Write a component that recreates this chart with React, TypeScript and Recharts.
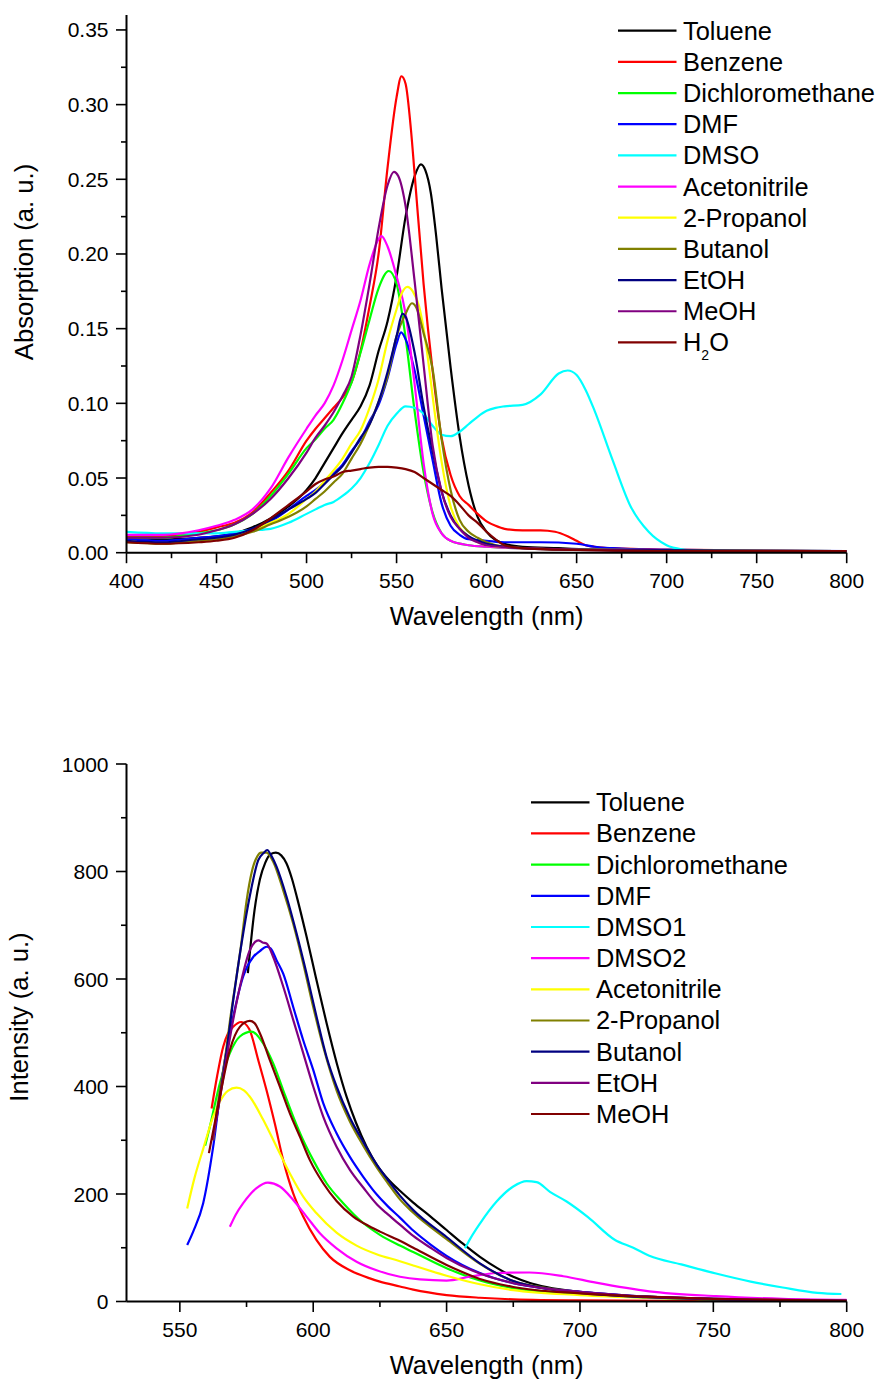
import React from 'react';
import { LineChart, Line, XAxis, YAxis, Legend, Label } from 'recharts';

const FONT = '"Liberation Sans", Arial, Helvetica, sans-serif';
const TICK_FS = 21;
const TITLE_FS = 25.6;
const LEGEND_FS = 25.4;

type Pt = [number, number];

// ---------------- Absorption spectra (top) : [wavelength nm, absorbance] ----------------
const ABS_TOLUENE: Pt[] = [[400,0.010],[420,0.009],[440,0.010],[450,0.011],[460,0.013],[470,0.017],[480,0.023],[490,0.031],[500,0.042],[505,0.050],[510,0.060],[515,0.070],[520,0.080],[525,0.089],[530,0.098],[535,0.112],[540,0.135],[545,0.155],[550,0.185],[555,0.225],[560,0.252],[563.5,0.260],[566,0.256],[569,0.241],[572,0.212],[575,0.177],[580,0.124],[585,0.078],[590,0.045],[595,0.024],[600,0.014],[610,0.006],[620,0.004],[640,0.003],[660,0.002],[700,0.001],[800,0.001]];
const ABS_BENZENE: Pt[] = [[400,0.011],[420,0.011],[440,0.014],[450,0.017],[460,0.020],[470,0.027],[480,0.040],[490,0.055],[500,0.075],[505,0.083],[510,0.090],[515,0.097],[520,0.104],[525,0.114],[530,0.135],[535,0.165],[540,0.200],[545,0.258],[550,0.305],[552.7,0.319],[555,0.314],[558,0.283],[560,0.254],[565,0.180],[570,0.122],[575,0.077],[580,0.052],[585,0.038],[590,0.032],[595,0.026],[600,0.021],[605,0.018],[610,0.016],[620,0.015],[630,0.015],[638,0.014],[645,0.011],[650,0.008],[655,0.005],[660,0.004],[670,0.003],[700,0.002],[800,0.001]];
const ABS_DCM: Pt[] = [[400,0.010],[420,0.010],[440,0.013],[450,0.015],[460,0.019],[470,0.026],[480,0.038],[490,0.053],[500,0.070],[505,0.076],[510,0.083],[515,0.089],[520,0.100],[525,0.114],[530,0.134],[535,0.156],[540,0.177],[545.7,0.1886],[550,0.180],[555,0.144],[560,0.095],[565,0.054],[570,0.027],[575,0.013],[580,0.008],[590,0.005],[600,0.004],[650,0.002],[800,0.001]];
const ABS_DMF: Pt[] = [[400,0.009],[420,0.008],[440,0.010],[450,0.011],[460,0.013],[470,0.016],[480,0.021],[490,0.029],[500,0.038],[505,0.042],[510,0.047],[515,0.053],[520,0.059],[525,0.068],[530,0.076],[535,0.088],[540,0.099],[545,0.117],[550,0.140],[552.5,0.1475],[555,0.143],[560,0.122],[565,0.092],[570,0.062],[575,0.033],[580,0.018],[585,0.012],[590,0.009],[600,0.008],[610,0.007],[630,0.007],[650,0.006],[660,0.004],[670,0.003],[690,0.002],[800,0.001]];
const ABS_DMSO: Pt[] = [[400,0.014],[420,0.013],[440,0.013],[450,0.013],[460,0.014],[470,0.015],[480,0.016],[490,0.020],[500,0.026],[505,0.029],[510,0.032],[515,0.034],[520,0.038],[525,0.043],[530,0.050],[535,0.060],[540,0.072],[545,0.085],[550,0.093],[555,0.098],[560,0.097],[565,0.093],[570,0.085],[575,0.079],[580,0.078],[585,0.081],[590,0.086],[595,0.091],[600,0.095],[605,0.097],[610,0.098],[620,0.099],[630,0.106],[640,0.120],[645,0.122],[650,0.119],[655,0.109],[660,0.095],[670,0.062],[680,0.031],[690,0.014],[700,0.005],[710,0.002],[720,0.001],[800,0.001]];
const ABS_ACN: Pt[] = [[400,0.012],[420,0.012],[440,0.015],[450,0.018],[460,0.022],[470,0.029],[480,0.043],[490,0.064],[500,0.083],[505,0.092],[510,0.100],[515,0.112],[520,0.129],[525,0.149],[530,0.169],[535,0.193],[540,0.210],[541.6,0.212],[545,0.205],[550,0.185],[555,0.160],[560,0.113],[565,0.060],[570,0.026],[575,0.013],[580,0.008],[590,0.005],[600,0.004],[650,0.002],[800,0.001]];
const ABS_2PROP: Pt[] = [[400,0.008],[420,0.006],[440,0.008],[450,0.009],[460,0.011],[470,0.015],[480,0.020],[490,0.026],[500,0.036],[505,0.041],[510,0.048],[515,0.055],[520,0.063],[525,0.073],[530,0.082],[535,0.097],[540,0.116],[545,0.142],[550,0.163],[553,0.174],[556,0.178],[559,0.175],[562.5,0.165],[565,0.150],[568,0.1245],[570,0.105],[575,0.061],[580,0.031],[585,0.017],[590,0.011],[600,0.005],[620,0.003],[650,0.002],[800,0.001]];
const ABS_BUTANOL: Pt[] = [[400,0.007],[420,0.006],[440,0.008],[450,0.009],[460,0.011],[470,0.014],[480,0.019],[490,0.024],[500,0.031],[505,0.036],[510,0.041],[515,0.047],[520,0.053],[525,0.063],[530,0.073],[535,0.086],[540,0.101],[545,0.118],[550,0.145],[555,0.160],[558.5,0.167],[561,0.164],[565,0.147],[570,0.123],[575,0.076],[580,0.042],[585,0.022],[590,0.014],[595,0.010],[600,0.007],[610,0.004],[650,0.002],[800,0.001]];
const ABS_ETOH: Pt[] = [[400,0.008],[420,0.007],[440,0.009],[450,0.010],[460,0.012],[470,0.016],[480,0.022],[490,0.029],[500,0.036],[505,0.040],[510,0.046],[515,0.052],[520,0.058],[525,0.067],[530,0.077],[535,0.086],[540,0.101],[545,0.121],[550,0.145],[553.3,0.160],[555,0.158],[560,0.134],[565,0.098],[570,0.068],[575,0.041],[580,0.025],[585,0.016],[590,0.011],[600,0.006],[620,0.003],[650,0.002],[800,0.001]];
const ABS_MEOH: Pt[] = [[400,0.010],[420,0.010],[440,0.012],[450,0.015],[460,0.019],[470,0.026],[480,0.036],[490,0.050],[500,0.067],[505,0.077],[510,0.085],[515,0.094],[520,0.105],[525,0.118],[530,0.146],[535,0.180],[540,0.217],[545,0.246],[548.5,0.255],[551,0.252],[555,0.232],[560,0.182],[565,0.126],[570,0.072],[575,0.041],[580,0.024],[585,0.016],[590,0.010],[595,0.007],[600,0.005],[620,0.003],[700,0.001],[800,0.001]];
const ABS_H2O: Pt[] = [[400,0.007],[420,0.006],[440,0.007],[450,0.008],[460,0.010],[470,0.015],[480,0.023],[490,0.032],[500,0.041],[505,0.046],[510,0.049],[515,0.051],[520,0.054],[525,0.055],[530,0.056],[535,0.057],[540,0.0575],[545,0.0575],[550,0.057],[555,0.056],[560,0.054],[565,0.050],[570,0.046],[575,0.042],[580,0.038],[585,0.032],[590,0.025],[595,0.020],[600,0.014],[605,0.009],[610,0.005],[620,0.003],[640,0.002],[700,0.001],[800,0.001]];

// ---------------- Emission spectra (bottom) : [wavelength nm, intensity] ----------------
const PL_TOLUENE: Pt[] = [[575.5,611],[578,728],[580,785],[582,816],[584,832],[586,835],[588,830],[590,815],[592,787],[594,750],[597.5,679],[601,603],[605,518],[609,440],[612.5,381],[616,333],[620,288],[624,253],[628,228],[632.5,206],[637.5,184],[644,158],[650,133],[656,108],[662.5,83],[669,62],[675,46],[681,35],[687.5,27],[700,18],[712,13],[725,9],[750,5],[775,3],[800,2]];
const PL_BENZENE: Pt[] = [[561.9,359],[564,420],[566.25,474],[568,498],[570,511],[573,520],[576,507],[579.4,449],[582.5,393],[585.6,331],[588.75,263],[592.5,201],[596.25,158],[601.25,114],[606.25,83],[613.75,58],[621.25,43],[625,37],[632.5,28],[637.5,22],[650,12],[662.5,7],[675,4],[700,2],[750,1],[800,0]];
const PL_DCM: Pt[] = [[559.5,290],[561.25,325],[565,406],[568.75,462],[572.5,493],[576.9,502],[581.25,480],[585,443],[588.75,393],[592.5,344],[596.25,300],[600,263],[605,220],[611.25,183],[618.75,146],[625,124],[632.5,104],[637.5,92],[650,62],[662.5,39],[675,25],[687.5,18],[700,14],[725,7],[750,4],[800,1]];
const PL_DMF: Pt[] = [[552.75,105],[555,130],[558.75,183],[562.5,288],[566.25,431],[570,530],[573.75,605],[577.5,641],[580,652],[582.5,660],[584,657],[586.25,635],[588.75,610],[592.5,548],[596.25,486],[600,431],[603.75,369],[608.75,313],[613.75,269],[618.75,232],[624,198],[628,177],[632.5,156],[637.5,132],[644,106],[650,85],[662.5,53],[675,34],[687.5,24],[700,18],[725,9],[750,5],[775,3],[800,2]];
const PL_DMSO1: Pt[] = [[656.9,99],[659,118],[662.5,145],[668.75,186],[675,214],[680,224],[683.75,222],[688.75,204],[695,186],[703,157],[713,115],[720,100],[726,85],[738,69],[751,52],[764,37],[776,26],[789,16],[798,14]];
const PL_DMSO2: Pt[] = [[568.75,139],[571,162],[573.75,183],[578.75,211],[583,221],[587.5,214],[592.5,189],[597.5,158],[602.5,127],[608.75,99],[616.25,74],[623.75,58],[632.5,46],[640,41],[650,39],[658.75,46],[668.75,53],[681,54],[693.75,47],[706,35],[726,19],[751,10],[776,5],[800,3]];
const PL_ACN: Pt[] = [[552.75,173],[555.5,230],[558.75,284],[562.5,344],[565,372],[568,392],[571.25,398],[574,393],[576.25,381],[581.25,338],[586.25,288],[591.25,238],[596.25,195],[601.25,164],[608.75,128],[616.25,104],[623.75,88],[632.5,75],[637.5,67],[650,48],[662.5,32],[675,21],[700,12],[725,7],[750,4],[800,1]];
const PL_2PROP: Pt[] = [[562.5,300],[564,360],[566.9,450],[569,530],[571.25,605],[573,665],[575,745],[577,800],[579,828],[580.5,835],[582.5,835],[585,818],[588.75,765],[592.5,703],[596.25,629],[600,548],[603.75,474],[608.75,393],[613.75,335],[618.75,290],[623.75,250],[628,220],[632.5,190],[637.5,165],[650,116],[662.5,70],[675,38],[687.5,25],[700,17],[725,8],[750,4],[775,2],[800,1]];
const PL_BUTANOL: Pt[] = [[563,320],[566.9,443],[570,560],[573.1,665],[576.25,755],[579.4,821],[581.5,835],[582.75,840],[584,832],[586.25,809],[590,753],[593.75,685],[597.5,610],[601.25,530],[605,455],[608.75,400],[613.75,342],[618.75,297],[623.75,255],[628,226],[632.5,197],[637.5,170],[650,120],[662.5,71],[675,38],[687.5,24],[700,16],[725,8],[750,4],[775,2],[800,1]];
const PL_ETOH: Pt[] = [[562.25,300],[563.75,340],[566.9,435],[570,524],[573.1,598],[576.25,654],[578,668],[579.4,672],[581,668],[582.5,666],[585,641],[588.75,586],[592.5,524],[596.25,462],[600,400],[603.75,344],[608.75,288],[613.75,245],[618.75,212],[624,180],[628,162],[632.5,143],[637.5,122],[644,100],[650,81],[662.5,52],[675,34],[687.5,24],[700,18],[725,9],[750,5],[775,3],[800,2]];
const PL_MEOH: Pt[] = [[560.9,276],[563,330],[565,381],[568.75,468],[572.5,511],[576.25,522],[578,518],[580,499],[583.75,449],[587.5,400],[591.25,350],[595,307],[598.75,263],[603.75,220],[608.75,187],[615,158],[621,140],[625,130],[632.5,113],[637.5,100],[650,68],[662.5,42],[675,27],[700,15],[725,9],[750,5],[775,3],[800,1]];

// ---------------- Axis ticks ----------------
const ABS_X_MAJOR = [400, 450, 500, 550, 600, 650, 700, 750, 800];
const ABS_X_MINOR = [425, 475, 525, 575, 625, 675, 725, 775];
const ABS_Y_MAJOR = [0, 0.05, 0.1, 0.15, 0.2, 0.25, 0.3, 0.35];
const ABS_Y_MINOR = [0.025, 0.075, 0.125, 0.175, 0.225, 0.275, 0.325];
const PL_X_MAJOR = [550, 600, 650, 700, 750, 800];
const PL_X_MINOR = [575, 625, 675, 725, 775];
const PL_Y_MAJOR = [0, 200, 400, 600, 800, 1000];
const PL_Y_MINOR = [100, 300, 500, 700, 900];

const ABS_SERIES = [
  { name: 'Toluene', color: '#000000', pts: ABS_TOLUENE },
  { name: 'Benzene', color: '#FF0000', pts: ABS_BENZENE },
  { name: 'Dichloromethane', color: '#00FF00', pts: ABS_DCM },
  { name: 'DMF', color: '#0000FF', pts: ABS_DMF },
  { name: 'DMSO', color: '#00FFFF', pts: ABS_DMSO },
  { name: 'Acetonitrile', color: '#FF00FF', pts: ABS_ACN },
  { name: '2-Propanol', color: '#FFFF00', pts: ABS_2PROP },
  { name: 'Butanol', color: '#808000', pts: ABS_BUTANOL },
  { name: 'EtOH', color: '#000080', pts: ABS_ETOH },
  { name: 'MeOH', color: '#800080', pts: ABS_MEOH },
  { name: 'H2O', color: '#800000', pts: ABS_H2O },
];

const PL_SERIES = [
  { name: 'Toluene', color: '#000000', pts: PL_TOLUENE },
  { name: 'Benzene', color: '#FF0000', pts: PL_BENZENE },
  { name: 'Dichloromethane', color: '#00FF00', pts: PL_DCM },
  { name: 'DMF', color: '#0000FF', pts: PL_DMF },
  { name: 'DMSO1', color: '#00FFFF', pts: PL_DMSO1 },
  { name: 'DMSO2', color: '#FF00FF', pts: PL_DMSO2 },
  { name: 'Acetonitrile', color: '#FFFF00', pts: PL_ACN },
  { name: '2-Propanol', color: '#808000', pts: PL_2PROP },
  { name: 'Butanol', color: '#000080', pts: PL_BUTANOL },
  { name: 'EtOH', color: '#800080', pts: PL_ETOH },
  { name: 'MeOH', color: '#800000', pts: PL_MEOH },
];

const toData = (pts: Pt[]) => pts.map(([x, y]) => ({ x, y }));
const isIn = (arr: number[], v: number) => arr.some((a) => Math.abs(a - v) < 1e-9);
const sortNum = (a: number[]) => [...a].sort((p, q) => p - q);

// ---------------- Geometry (page pixels; the wrapper is pinned to the page origin) ----------------
const W = 878;
const LEFT = 126.5;
const RIGHT_M = 31.3;
const PLOT_W = W - LEFT - RIGHT_M;
const XAXIS_H = 60;

const H1 = 698;
const TOP1 = 15;
const PLOT_H1 = 537.7;
const AXIS_Y1 = TOP1 + PLOT_H1;

const H2 = 684;
const TOP2 = 66;
const PLOT_H2 = 537.5;
const AXIS_Y2 = TOP2 + PLOT_H2;

function makeXTick(major: number[], axisY: number) {
  return (props: any) => {
    const { x, payload } = props;
    const v = payload.value;
    const m = isIn(major, v);
    return (
      <g>
        <line x1={x} x2={x} y1={axisY} y2={axisY + (m ? 10.5 : 5.5)} stroke="#000" strokeWidth={1.6} />
        {m && (
          <text x={x} y={axisY + 35.5} textAnchor="middle" fontSize={TICK_FS} fontFamily={FONT} fill="#000">
            {String(v)}
          </text>
        )}
      </g>
    );
  };
}

function makeYTick(major: number[], fmt: (v: number) => string) {
  return (props: any) => {
    const { y, payload } = props;
    const v = payload.value;
    const m = isIn(major, v);
    return (
      <g>
        <line x1={LEFT - (m ? 10.5 : 5.5)} x2={LEFT} y1={y} y2={y} stroke="#000" strokeWidth={1.6} />
        {m && (
          <text x={LEFT - 18} y={y + 7.5} textAnchor="end" fontSize={TICK_FS} fontFamily={FONT} fill="#000">
            {fmt(v)}
          </text>
        )}
      </g>
    );
  };
}

function LegendBox({ items, rowY0 }: { items: { name: string; color: string }[]; rowY0: number }) {
  return (
    <svg width={268} height={360} style={{ display: 'block', overflow: 'visible' }}>
      {items.map((it, i) => {
        const y = rowY0 + i * 31.17;
        return (
          <g key={it.name}>
            <line x1={10} x2={68.5} y1={y} y2={y} stroke={it.color} strokeWidth={2.2} />
            <text x={75} y={y + 9} fontSize={LEGEND_FS} fontFamily={FONT} fill="#000">
              {it.name === 'H2O' ? (
                <>
                  <tspan>H</tspan>
                  <tspan fontSize={14} dy={9}>2</tspan>
                  <tspan dy={-9}>O</tspan>
                </>
              ) : (
                it.name
              )}
            </text>
          </g>
        );
      })}
    </svg>
  );
}

const axisLineStyle = { stroke: '#000', strokeWidth: 2 };

function XTitle({ y }: { y: number }) {
  return (
    <text x={LEFT + PLOT_W / 2} y={y} textAnchor="middle" fontSize={TITLE_FS} fontFamily={FONT} fill="#000">
      Wavelength (nm)
    </text>
  );
}

function YTitle({ x, y, text }: { x: number; y: number; text: string }) {
  return (
    <text x={x} y={y} transform={`rotate(-90 ${x} ${y})`} textAnchor="middle" fontSize={TITLE_FS} fontFamily={FONT} fill="#000">
      {text}
    </text>
  );
}

export default function App() {
  return (
    <div style={{ position: 'absolute', left: 0, top: 0, width: W, height: H1 + H2, fontFamily: FONT, background: '#fff' }}>
      <LineChart width={W} height={H1} margin={{ top: TOP1, right: RIGHT_M, bottom: H1 - AXIS_Y1 - XAXIS_H, left: 0 }}>
        <XAxis
          type="number"
          dataKey="x"
          domain={[400, 800]}
          ticks={sortNum([...ABS_X_MAJOR, ...ABS_X_MINOR])}
          interval={0}
          allowDataOverflow
          height={XAXIS_H}
          axisLine={axisLineStyle}
          tickLine={false}
          tickSize={0}
          tickMargin={0}
          tick={makeXTick(ABS_X_MAJOR, AXIS_Y1)}
        >
          <Label content={() => <XTitle y={AXIS_Y1 + 72.5} />} />
        </XAxis>
        <YAxis
          type="number"
          domain={[0, 0.36]}
          ticks={sortNum([...ABS_Y_MAJOR, ...ABS_Y_MINOR])}
          interval={0}
          allowDataOverflow
          width={LEFT}
          axisLine={axisLineStyle}
          tickLine={false}
          tickSize={0}
          tickMargin={0}
          tick={makeYTick(ABS_Y_MAJOR, (v) => v.toFixed(2))}
        >
          <Label content={() => <YTitle x={33} y={262} text="Absorption (a. u.)" />} />
        </YAxis>
        {ABS_SERIES.map((s) => (
          <Line
            key={s.name}
            name={s.name}
            data={toData(s.pts)}
            dataKey="y"
            type="monotone"
            stroke={s.color}
            strokeWidth={2.2}
            dot={false}
            activeDot={false}
            isAnimationActive={false}
          />
        ))}
        <Legend
          layout="vertical"
          align="center"
          verticalAlign="middle"
          wrapperStyle={{ position: 'absolute', left: 608, top: 0, width: 268, height: 360 }}
          content={() => <LegendBox items={ABS_SERIES} rowY0={30.7} />}
        />
      </LineChart>

      <LineChart width={W} height={H2} margin={{ top: TOP2, right: RIGHT_M, bottom: H2 - AXIS_Y2 - XAXIS_H, left: 0 }}>
        <XAxis
          type="number"
          dataKey="x"
          domain={[530, 800]}
          ticks={sortNum([...PL_X_MAJOR, ...PL_X_MINOR])}
          interval={0}
          allowDataOverflow
          height={XAXIS_H}
          axisLine={axisLineStyle}
          tickLine={false}
          tickSize={0}
          tickMargin={0}
          tick={makeXTick(PL_X_MAJOR, AXIS_Y2)}
        >
          <Label content={() => <XTitle y={AXIS_Y2 + 72.5} />} />
        </XAxis>
        <YAxis
          type="number"
          domain={[0, 1000]}
          ticks={sortNum([...PL_Y_MAJOR, ...PL_Y_MINOR])}
          interval={0}
          allowDataOverflow
          width={LEFT}
          axisLine={axisLineStyle}
          tickLine={false}
          tickSize={0}
          tickMargin={0}
          tick={makeYTick(PL_Y_MAJOR, (v) => String(v))}
        >
          <Label content={() => <YTitle x={28} y={319} text="Intensity (a. u.)" />} />
        </YAxis>
        {PL_SERIES.map((s) => (
          <Line
            key={s.name}
            name={s.name}
            data={toData(s.pts)}
            dataKey="y"
            type="monotone"
            stroke={s.color}
            strokeWidth={2.2}
            dot={false}
            activeDot={false}
            isAnimationActive={false}
          />
        ))}
        <Legend
          layout="vertical"
          align="center"
          verticalAlign="middle"
          wrapperStyle={{ position: 'absolute', left: 521, top: 80, width: 268, height: 360 }}
          content={() => <LegendBox items={PL_SERIES} rowY0={24.3} />}
        />
      </LineChart>
    </div>
  );
}
